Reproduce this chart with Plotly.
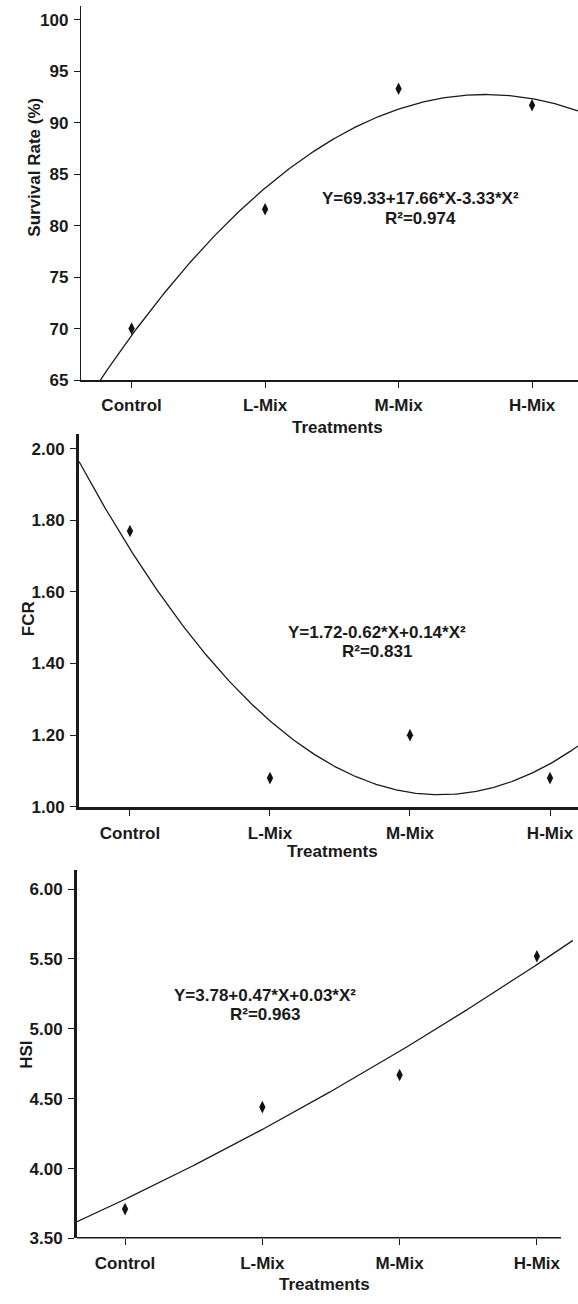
import numpy as np
import plotly.graph_objects as go

W, H = 578, 1304

categories = ["Control", "L-Mix", "M-Mix", "H-Mix"]
x_codes = [0, 1, 2, 3]

survival = [70.0, 81.6, 93.3, 91.7]
fcr = [1.77, 1.08, 1.20, 1.08]
hsi = [3.71, 4.44, 4.67, 5.52]

# fitted quadratic coefficients (as printed on the chart): b0, b1, b2
surv_coef = [69.33, 17.66, -3.33]
fcr_coef = [1.72, -0.62, 0.14]
hsi_coef = [3.78, 0.47, 0.03]

surv_eq = ["Y=69.33+17.66*X-3.33*X²", "R²=0.974"]
fcr_eq = ["Y=1.72-0.62*X+0.14*X²", "R²=0.831"]
hsi_eq = ["Y=3.78+0.47*X+0.03*X²", "R²=0.963"]

surv_ticks = [65, 70, 75, 80, 85, 90, 95, 100]
fcr_ticks = [1.00, 1.20, 1.40, 1.60, 1.80, 2.00]
hsi_ticks = [3.50, 4.00, 4.50, 5.00, 5.50, 6.00]

FONT = "Liberation Sans"
INK = "#1a1a1a"


def px_x(p):
    return p / W


def px_y(p):
    return 1 - p / H


def quad(coef, x):
    return coef[0] + coef[1] * x + coef[2] * x ** 2


panels = [
    dict(y=survival, coef=surv_coef, eq=surv_eq, ticks=surv_ticks, fmt="d",
         xdom=(81, 578), xr=(-0.379, 3.344), ydom=(383, 6), yr=(65, 101.35),
         ylw=1.4, xlw=1.8, title="Survival Rate (%)", tpos=(35, 169),
         xtpos=(337, 431), eqpos=(421, 200, 220)),
    dict(y=fcr, coef=fcr_coef, eq=fcr_eq, ticks=fcr_ticks, fmt=".2f",
         xdom=(79, 578), xr=(-0.364, 3.2), ydom=(813, 437), yr=(1.0, 2.042),
         ylw=3, xlw=2.6, title="FCR", tpos=(28, 624),
         xtpos=(332, 858), eqpos=(377, 637, 657)),
    dict(y=hsi, coef=hsi_coef, eq=hsi_eq, ticks=hsi_ticks, fmt=".2f",
         xdom=(77, 573), xr=(-0.35, 3.263), ydom=(1248, 877), yr=(3.5, 6.135),
         ylw=3, xlw=2.6, title="HSI", tpos=(27, 1063),
         xtpos=(324, 1294), eqpos=(265, 1003, 1022), xline_end=3.175),
]

fig = go.Figure()
annotations = []
shapes = []
tickf = dict(family=FONT, size=17, color=INK, weight="bold")

for i, p in enumerate(panels, start=1):
    xa = "x" if i == 1 else f"x{i}"
    ya = "y" if i == 1 else f"y{i}"
    xgrid = np.linspace(p["xr"][0], p["xr"][1], 300)
    fig.add_trace(go.Scatter(x=xgrid, y=quad(p["coef"], xgrid), mode="lines",
                             line=dict(color=INK, width=1.3), xaxis=xa, yaxis=ya,
                             showlegend=False, hoverinfo="skip"))
    fig.add_trace(go.Scatter(x=x_codes, y=p["y"], mode="markers",
                             marker=dict(symbol="diamond-tall", size=9, color="#111"),
                             xaxis=xa, yaxis=ya, showlegend=False))

    has_shape_line = "xline_end" in p
    xaxis = dict(domain=[px_x(p["xdom"][0]), px_x(p["xdom"][1])], range=list(p["xr"]),
                 tickvals=x_codes, ticktext=categories, ticks="outside", ticklen=6,
                 tickwidth=1.3, tickcolor=INK, showline=not has_shape_line,
                 linecolor=INK, linewidth=p["xlw"], showgrid=False, zeroline=False,
                 anchor=ya, tickfont=tickf, ticklabelstandoff=3)
    yaxis = dict(domain=[px_y(p["ydom"][0]), px_y(p["ydom"][1])], range=list(p["yr"]),
                 tickvals=p["ticks"], tickformat=p["fmt"], ticks="outside", ticklen=6,
                 tickwidth=1.3, tickcolor=INK, showline=True, linecolor=INK,
                 linewidth=p["ylw"], showgrid=False, zeroline=False, anchor=xa,
                 tickfont=tickf, ticklabelstandoff=2)
    key = "" if i == 1 else str(i)
    fig.update_layout(**{f"xaxis{key}": xaxis, f"yaxis{key}": yaxis})

    if has_shape_line:
        shapes.append(dict(type="line", xref=xa, yref=ya, x0=p["xr"][0], x1=p["xline_end"],
                           y0=p["yr"][0], y1=p["yr"][0], line=dict(color=INK, width=p["xlw"])))

    tf = dict(family=FONT, size=17, color=INK)
    annotations.append(dict(text=f"<b>{p['title']}</b>", x=px_x(p["tpos"][0]), y=px_y(p["tpos"][1]),
                            xref="paper", yref="paper", textangle=-90, showarrow=False,
                            xanchor="center", yanchor="middle", font=tf))
    annotations.append(dict(text="<b>Treatments</b>", x=px_x(p["xtpos"][0]), y=px_y(p["xtpos"][1]),
                            xref="paper", yref="paper", showarrow=False,
                            xanchor="center", yanchor="middle", font=tf))
    ex, ey1, ey2 = p["eqpos"]
    annotations.append(dict(text=f"<b>{p['eq'][0]}</b>", x=px_x(ex), y=px_y(ey1),
                            xref="paper", yref="paper", showarrow=False,
                            xanchor="center", yanchor="middle", font=tf))
    annotations.append(dict(text=f"<b>{p['eq'][1]}</b>", x=px_x(ex), y=px_y(ey2),
                            xref="paper", yref="paper", showarrow=False,
                            xanchor="center", yanchor="middle", font=tf))

fig.update_layout(width=W, height=H, margin=dict(l=0, r=0, t=0, b=0),
                  paper_bgcolor="white", plot_bgcolor="white",
                  annotations=annotations, shapes=shapes,
                  font=dict(family=FONT, color=INK))

fig.write_html("out.html")
